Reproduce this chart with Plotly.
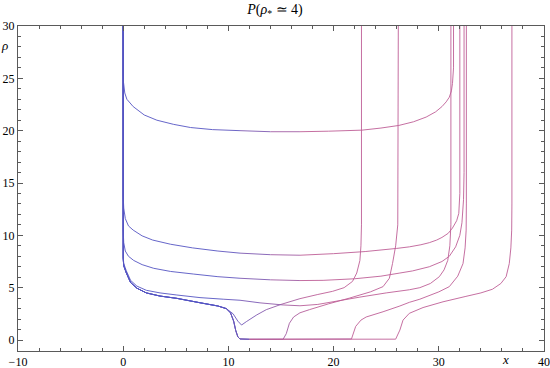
import numpy as np
import plotly.graph_objects as go

# curve data (x, rho)
a_x = [0, 0, 0.03, 0.15, 0.35, 0.95, 2.0, 3.2, 4.8, 6.4, 8.5, 11.1, 14, 16.8, 19.5, 22.7, 24.5, 26.2, 27.6, 28.8, 29.7, 30.3, 30.7, 31.0, 31.2, 31.3, 31.4, 31.4]
a_y = [30, 25.6, 24.6, 23.6, 23.0, 22.3, 21.5, 21.0, 20.6, 20.3, 20.1, 20.0, 19.9, 19.9, 19.95, 20.05, 20.25, 20.5, 20.85, 21.3, 21.8, 22.3, 22.75, 23.2, 23.8, 24.5, 26, 30]

b_x = [0, 0, 0.05, 0.2, 0.5, 0.95, 1.8, 2.8, 4.5, 6.6, 9, 11.1, 14, 16.8, 20, 23, 26, 27.2, 28.3, 29.1, 29.8, 30.3, 30.9, 31.3, 31.7, 31.9, 32.0, 32.0]
b_y = [30, 13.8, 12.6, 11.6, 10.9, 10.5, 9.95, 9.55, 9.15, 8.8, 8.5, 8.3, 8.15, 8.1, 8.25, 8.45, 8.75, 8.9, 9.1, 9.3, 9.55, 9.8, 10.2, 10.7, 11.4, 12.1, 14, 30]

c_x = [0, 0, 0.05, 0.2, 0.5, 1.0, 1.8, 2.9, 4.5, 6.7, 9, 11.1, 14, 16.8, 19, 22, 24.5, 26.3, 27.5, 29.1, 30.3, 31.0, 31.6, 32.0, 32.2, 32.35, 32.4, 32.4]
c_y = [30, 10.5, 9.3, 8.5, 8.0, 7.6, 7.2, 6.85, 6.55, 6.3, 6.05, 5.9, 5.75, 5.68, 5.7, 5.85, 6.1, 6.4, 6.6, 7.0, 7.5, 8.0, 8.9, 10.0, 11.2, 13.4, 16, 30]

d_x = [0, 0, 0.05, 0.3, 0.7, 1.3, 2.2, 3.5, 5.1, 7.3, 9.5, 11.1, 13, 15.2, 16.8, 18.5, 20.5, 22.5, 25, 27.2, 28.2, 29.2, 30.05, 30.5, 30.85, 31.05, 31.15, 31.15]
d_y = [30, 8.0, 7.3, 6.6, 5.7, 5.15, 4.75, 4.5, 4.3, 4.05, 3.9, 3.8, 3.55, 3.35, 3.27, 3.4, 3.75, 4.1, 4.5, 4.8, 5.0, 5.4, 6.05, 6.7, 7.6, 9.0, 11, 30]

# lower bundle (shared by e, f, g, h up to x ~ 9.8)
low_x = [0, 0, 0.05, 0.3, 0.7, 1.3, 2.2, 3.5, 5.1, 7.3, 9.0, 9.8]
low_y = [30, 7.8, 7.1, 6.4, 5.5, 4.95, 4.5, 4.2, 3.98, 3.56, 3.25, 3.0]

e_x = low_x + [10.45, 10.9, 11.25, 11.7, 12.7, 13.6, 15, 16.8, 18.5, 19.9, 21, 21.8, 22.2, 22.5, 22.6, 22.65, 22.65]
e_y = low_y + [2.5, 1.8, 1.43, 1.75, 2.4, 2.9, 3.4, 3.95, 4.35, 4.65, 5.0, 5.6, 6.4, 7.6, 9, 11, 30]

drop_x = [10.2, 10.5, 10.7, 10.9, 11.1, 12]
drop_y = [2.6, 1.8, 0.9, 0.3, 0.1, 0.07]

f_x = low_x + drop_x + [15.2, 15.5, 15.8, 16.2, 16.8, 17.7, 19.5, 21.5, 23.5, 24.7, 25.3, 25.6, 25.9, 26.1, 26.15]
f_y = low_y + drop_y + [0.07, 0.6, 1.6, 2.2, 2.6, 2.9, 3.45, 4.0, 4.6, 5.1, 5.9, 7.3, 9, 11, 30]

g_x = low_x + drop_x + [21.7, 22.1, 22.6, 23.1, 24.7, 26.3, 27.2, 28.2, 30, 31.0, 31.8, 32.3, 32.5, 32.6, 32.62, 32.62]
g_y = low_y + drop_y + [0.1, 1.3, 1.9, 2.2, 2.7, 3.25, 3.6, 3.9, 4.6, 5.1, 6.1, 7.3, 8.8, 10.5, 13, 30]

h_x = low_x + drop_x + [25.9, 26.3, 26.6, 27.2, 28.5, 30.4, 32.5, 34.0, 35.1, 35.9, 36.4, 36.7, 36.85, 36.93, 36.95, 36.95]
h_y = low_y + drop_y + [0.08, 0.95, 1.9, 2.55, 3.1, 3.65, 4.15, 4.5, 4.85, 5.4, 6.05, 7.3, 8.8, 10.5, 13, 30]

curves = [(a_x, a_y), (b_x, b_y), (c_x, c_y), (d_x, d_y),
          (e_x, e_y), (f_x, f_y), (g_x, g_y), (h_x, h_y)]

BLUE = np.array([85, 85, 195])
PINK = np.array([190, 95, 150])
SERIF = "Liberation Serif"
FRAME = "#5a5a5a"


def seg_color(xm):
    t = min(max((xm - 9.0) / 9.0, 0.0), 1.0)
    r, g, b = (BLUE + t * (PINK - BLUE)).round().astype(int)
    return f"rgb({r},{g},{b})"


fig = go.Figure()
for xs, ys in curves:
    for i in range(len(xs) - 1):
        fig.add_scatter(
            x=[xs[i], xs[i + 1]], y=[ys[i], ys[i + 1]],
            mode="lines", line=dict(color=seg_color(0.5 * (xs[i] + xs[i + 1])), width=0.9),
            showlegend=False, hoverinfo="skip",
        )

axis_common = dict(
    showline=True, linecolor=FRAME, linewidth=1, mirror="allticks",
    ticks="inside", ticklen=5, tickcolor=FRAME, tickwidth=1,
    showgrid=False, zeroline=False, automargin=False,
    tickfont=dict(family=SERIF, size=12, color="black"),
)
fig.update_layout(
    width=550, height=368,
    margin=dict(l=18, r=6, t=26, b=17),
    paper_bgcolor="white", plot_bgcolor="white",
    title=dict(text="<i>P</i>(<i>ρ</i><sub>*</sub> ≃ 4)", x=0.5, xref="container",
               y=0.975, yref="container", yanchor="middle",
               font=dict(family=SERIF, size=14, color="black")),
    xaxis=dict(range=[-10, 40], dtick=10,
               minor=dict(dtick=2, ticklen=3, ticks="inside", tickcolor=FRAME), **axis_common),
    yaxis=dict(range=[-1.05, 30], tick0=0, dtick=5,
               minor=dict(dtick=1, ticklen=3, ticks="inside", tickcolor=FRAME), **axis_common),
    annotations=[
        dict(text="<i>ρ</i>", x=-0.025, y=0.94, xref="paper", yref="paper", showarrow=False,
             xanchor="center", yanchor="middle", font=dict(family=SERIF, size=13, color="black")),
        dict(text="<i>x</i>", x=0.926, y=-0.027, xref="paper", yref="paper", showarrow=False,
             xanchor="center", yanchor="middle", font=dict(family=SERIF, size=13, color="black")),
    ],
)

# the page body has an 8px default margin; drop it so the figure sits at the window origin
fig.write_html("out.html", config={"displayModeBar": False},
               post_script="document.body.style.margin='0';")
